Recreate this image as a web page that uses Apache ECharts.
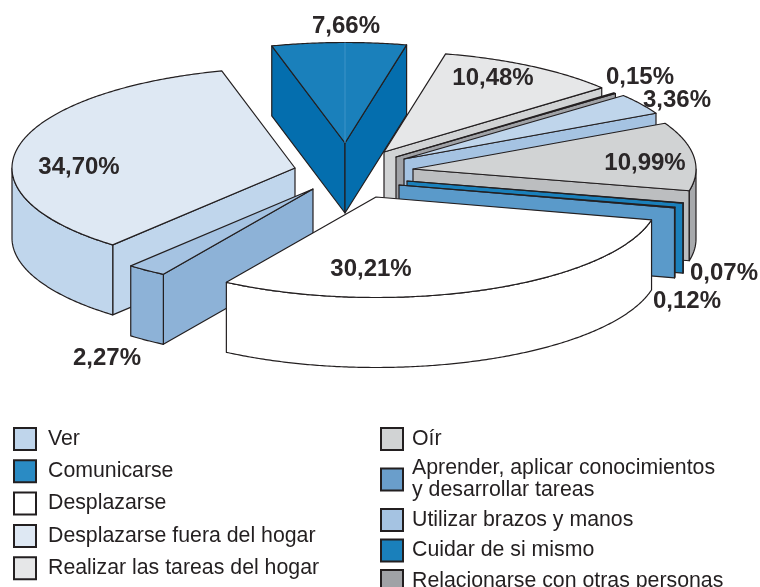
<!DOCTYPE html>
<html><head><meta charset="utf-8">
<style>html,body{margin:0;padding:0;background:#fff}#c{width:760px;height:587px}</style>
<script src="https://cdn.jsdelivr.net/npm/echarts@6/dist/echarts.min.js"></script>
</head><body><div id="c"></div>
<script>
// Data, clockwise from the top slice
const categories = ['Comunicarse','Realizar las tareas del hogar','Relacionarse con otras personas','Ver','Oír','Cuidar de si mismo','Aprender, aplicar conocimientos\ny desarrollar tareas','Desplazarse','Utilizar brazos y manos','Desplazarse fuera del hogar'];
const values = [7.66,10.48,0.15,3.36,10.99,0.07,0.12,30.21,2.27,34.70];
const valueLabels = ['7,66%','10,48%','0,15%','3,36%','10,99%','0,07%','0,12%','30,21%','2,27%','34,70%'];
const legendLeft = ['Ver','Comunicarse','Desplazarse','Desplazarse fuera del hogar','Realizar las tareas del hogar'];
const legendRight = ['Oír','Aprender, aplicar conocimientos\ny desarrollar tareas','Utilizar brazos y manos','Cuidar de si mismo','Relacionarse con otras personas'];

// Layout and style (not data)
const RX = 283, RY = 100.5, DEPTH = 70, START_ANGLE = 105, INK = '#231f20';
const explodeX = [345,384,396,404,413,407,399,376,313,295];
const explodeY = [143,152,157,159,169,181,185,197,189,168];
const labelX = [346,493,640,677,645,724,687,371,107,79];
const labelY = [26,78,77,100,163,273,301,269,358,167];
const topColors = ['#1a80bb','#e6e7e8','#58595b','#bfd5eb','#d1d3d4','#1a80bb','#5a9aca','#ffffff','#a5c3e2','#dee8f3'];
const wallColors = ['#046eae','#d1d3d4','#a0a2a6','#a5c3e2','#bcbec0','#1a80bb','#5a9aca','#ffffff','#8db2d7','#c0d6ec'];
const rimColors = ['#046eae','#e6e7e8','#a0a2a6','#a5c3e2','#a7a9ac','#1a80bb','#5a9aca','#ffffff','#8db2d7','#c0d6ec'];
const legendColors = ['#2a8bc4','#e6e7e8','#a0a2a6','#bfd5eb','#d1d3d4','#1a80bb','#6a9ecb','#ffffff','#a5c3e2','#dee8f3'];
const paintOrder = [9,8,0,1,2,3,4,5,6,7];

const total = values.reduce((a,b)=>a+b,0);
const startAngles = [], endAngles = [];
values.reduce((angle,v,i)=>{ startAngles[i]=angle; endAngles[i]=angle-360*v/total; return endAngles[i]; }, START_ANGLE);
const rad = d => d*Math.PI/180;
const rim = (i,deg,drop) => [explodeX[i]+RX*Math.cos(rad(deg)), explodeY[i]-RY*Math.sin(rad(deg))+(drop||0)];
const arc = (i,from,to,drop) => {
  const n = Math.max(2,Math.ceil(Math.abs(from-to)*2)), p=[];
  for(let k=0;k<=n;k++) p.push(rim(i,from+(to-from)*k/n,drop));
  return p;
};
const poly = (points,fill,lw,stroke) => ({type:'polygon',shape:{points},style:{fill,stroke:stroke||INK,lineWidth:lw||1.2,lineJoin:'round'}});

function drawSlice(i){
  const a1=startAngles[i], a2=endAngles[i], apex=[explodeX[i],explodeY[i]], apexB=[apex[0],apex[1]+DEPTH];
  const kids=[];
  const wall = a => { const r=rim(i,a), rb=rim(i,a,DEPTH); return poly([apex,r,rb,apexB],wallColors[i]); };
  if(Math.cos(rad(a1))<0) kids.push(wall(a1));
  if(Math.cos(rad(a2))>0) kids.push(wall(a2));
  // front-facing part of the outer rim: portion of the arc below the ellipse's horizontal axis
  for(let t=-360;t<=0;t+=360){
    const hi=Math.min(a1,t), lo=Math.max(a2,t-180);
    if(hi>lo){ kids.push(poly(arc(i,hi,lo,0).concat(arc(i,lo,hi,DEPTH)),rimColors[i])); }
  }
  const topPts=[apex].concat(arc(i,a1,a2,0));
  kids.push(poly(topPts,topColors[i]));
  if(a1>90 && a2<90){
    kids.push({type:'line',shape:{x1:apex[0],y1:apex[1],x2:rim(i,90)[0],y2:rim(i,90)[1]},style:{stroke:'#3d93c8',lineWidth:1}});
  }
  return {type:'group',children:kids};
}

const series = paintOrder.map(i=>({
  type:'custom', name:categories[i], coordinateSystem:'none', animation:false, silent:true,
  z:2, data:[values[i]],
  itemStyle:{color:legendColors[i],borderColor:INK,borderWidth:1},
  renderItem:()=>drawSlice(i)
}));
series.push({
  type:'custom', name:'labels', coordinateSystem:'none', animation:false, silent:true, z:5,
  data:values,
  renderItem:(p)=>({type:'text',x:labelX[p.dataIndex],y:labelY[p.dataIndex],
    style:{text:valueLabels[p.dataIndex],fill:'#2b2728',font:'bold 24px "Liberation Sans",Arial,sans-serif',align:'center',verticalAlign:'middle'}})
});

const legendBase = {
  orient:'vertical', icon:'rect', itemWidth:22, itemHeight:22, selectedMode:false, padding:0, height:400,
  textStyle:{fontFamily:'"Liberation Sans",Arial,sans-serif',fontSize:21.3,color:'#231f20',lineHeight:22},
};
const chart = echarts.init(document.getElementById('c'),null,{width:760,height:587});
chart.setOption({
  backgroundColor:'#ffffff', animation:false,
  legend:[
    Object.assign({},legendBase,{left:13,top:427,itemGap:8.3,data:legendLeft,textStyle:Object.assign({},legendBase.textStyle,{padding:[0,0,0,7]})}),
    Object.assign({},legendBase,{left:380,top:427,itemGap:6.5,data:legendRight,textStyle:Object.assign({},legendBase.textStyle,{padding:[0,0,0,4]})})
  ],
  series
});
</script></body></html>
